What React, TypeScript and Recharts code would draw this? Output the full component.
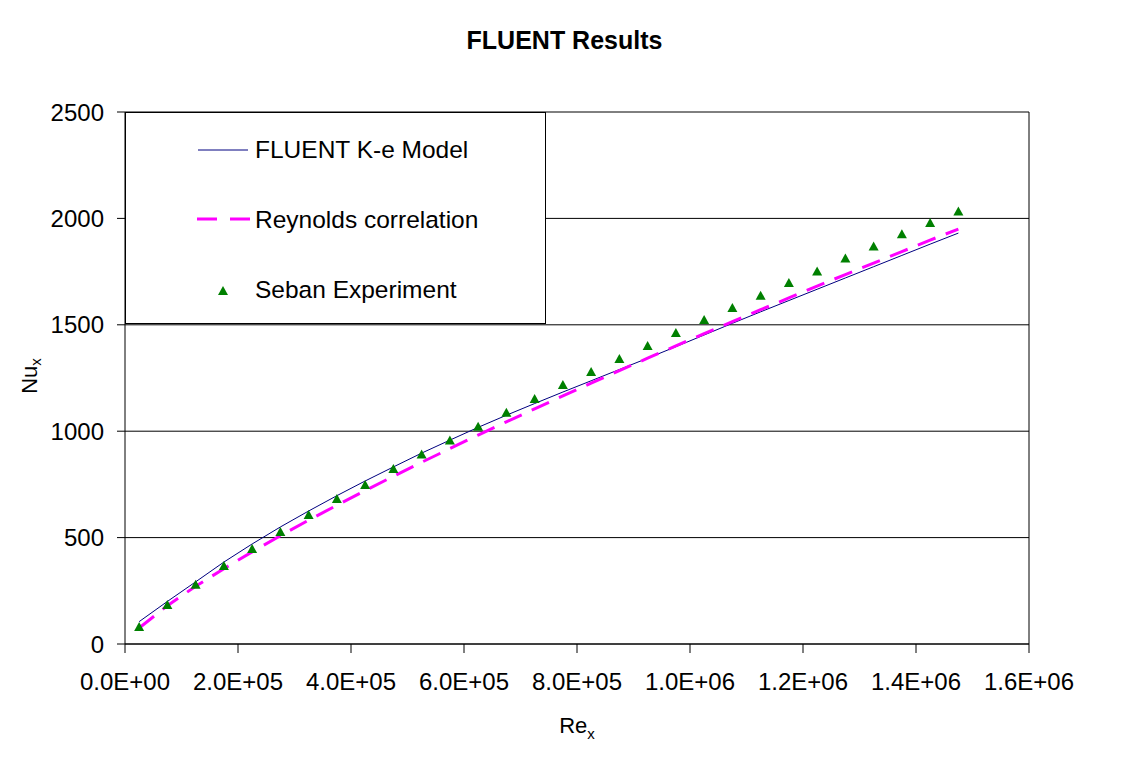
import React from 'react';
import { ComposedChart, Line, Scatter, XAxis, YAxis, CartesianGrid, Legend, ReferenceLine } from 'recharts';

const reX = [
  25000, 75000, 125000, 175000, 225000, 275000, 325000, 375000, 425000, 475000,
  525000, 575000, 625000, 675000, 725000, 775000, 825000, 875000, 925000, 975000,
  1025000, 1075000, 1125000, 1175000, 1225000, 1275000, 1325000, 1375000, 1425000, 1475000,
];

const fluentNu = [
  105, 200, 292, 385, 470, 550, 625, 697, 766, 832,
  897, 958, 1018, 1075, 1130, 1184, 1237, 1290, 1343, 1397,
  1452, 1507, 1561, 1614, 1667, 1720, 1773, 1826, 1879, 1931,
];

const reynoldsNu = [
  75, 180, 271, 354, 433, 509, 582, 652, 721, 788,
  854, 918, 982, 1044, 1105, 1166, 1226, 1285, 1343, 1401,
  1458, 1515, 1571, 1626, 1682, 1736, 1790, 1844, 1898, 1950,
];

const sebanNu = [
  80, 183, 278, 366, 446, 526, 606, 681, 747, 822,
  891, 956, 1021, 1087, 1151, 1217, 1278, 1339, 1400, 1461,
  1522, 1579, 1637, 1696, 1750, 1812, 1868, 1925, 1978, 2032,
];

const xTicks = [0, 200000, 400000, 600000, 800000, 1000000, 1200000, 1400000, 1600000];
const yTicks = [0, 500, 1000, 1500, 2000, 2500];

const data = reX.map((re, i) => ({
  re,
  fluent: fluentNu[i],
  reynolds: reynoldsNu[i],
  seban: sebanNu[i],
}));

const FONT = '"Liberation Sans", Arial, sans-serif';
const GREEN = '#008000';
const MAGENTA = '#FF00FF';
const NAVY = '#000080';

// Excel style scientific labels: 2.0E+05
function sciLabel(v: number) {
  if (v === 0) return '0.0E+00';
  const e = Math.floor(Math.log10(v) + 1e-9);
  const m = v / Math.pow(10, e);
  return `${m.toFixed(1)}E+${String(e).padStart(2, '0')}`;
}

function Triangle(props: any) {
  const { cx, cy } = props;
  if (cx == null || cy == null) return null;
  return (
    <polygon
      points={`${cx},${cy - 5} ${cx - 5},${cy + 4} ${cx + 5},${cy + 4}`}
      fill={GREEN}
    />
  );
}

function XLabel(props: any) {
  const vb = props.viewBox ?? { x: 125, y: 644, width: 904, height: 30 };
  return (
    <text x={vb.x + vb.width / 2} y={vb.y + 89} textAnchor="middle" fontSize={22} fontFamily={FONT} fill="#000">
      Re<tspan fontSize={15} dy={6}>x</tspan>
    </text>
  );
}

function YLabel(props: any) {
  const vb = props.viewBox ?? { x: 65, y: 112, width: 60, height: 532 };
  const x = vb.x - 28;
  const y = vb.y + vb.height / 2 - 2;
  return (
    <text x={x} y={y} textAnchor="middle" fontSize={22} fontFamily={FONT} fill="#000" transform={`rotate(-90 ${x} ${y})`}>
      Nu<tspan fontSize={15} dy={4}>x</tspan>
    </text>
  );
}

function LegendBox() {
  const text = { fontSize: 24.5, fontFamily: FONT, fill: '#000' };
  return (
    <div style={{ width: 421, height: 212, boxSizing: 'border-box', border: '1px solid #000', background: '#fff' }}>
      <svg width={419} height={210} style={{ display: 'block' }}>
        <line x1={72} y1={37} x2={122} y2={37} stroke={NAVY} strokeWidth={1} />
        <text x={129} y={45} {...text}>FLUENT K-e Model</text>
        <line x1={71} y1={106} x2={124} y2={106} stroke={MAGENTA} strokeWidth={3} strokeDasharray="20 13" />
        <text x={129} y={115} {...text}>Reynolds correlation</text>
        <Triangle cx={97} cy={178} />
        <text x={129} y={185} {...text}>Seban Experiment</text>
      </svg>
    </div>
  );
}

export default function App() {
  const tick = { fill: '#000', fontSize: 24, fontFamily: FONT };
  return (
    <div style={{ position: 'absolute', left: 0, top: 0, width: 1129, height: 770, background: '#fff', fontFamily: FONT }}>
      <div style={{ position: 'absolute', left: 0, top: 28, width: 1129, textAlign: 'center', fontSize: 25, lineHeight: '24px', fontWeight: 'bold', color: '#000' }}>
        FLUENT Results
      </div>
      <ComposedChart width={1129} height={770} data={data} margin={{ top: 112, right: 100, bottom: 96, left: 65 }}>
        <CartesianGrid vertical={false} stroke="#000" />
        <XAxis
          type="number"
          dataKey="re"
          domain={[0, 1600000]}
          ticks={xTicks}
          interval={0}
          tickFormatter={sciLabel}
          stroke="#000"
          tick={tick}
          tickSize={9}
          tickMargin={20}
          height={30}
          label={<XLabel />}
        />
        <YAxis
          type="number"
          domain={[0, 2500]}
          ticks={yTicks}
          interval={0}
          stroke="#000"
          tick={tick}
          tickSize={8}
          tickMargin={13}
          width={60}
          label={<YLabel />}
        />
        <ReferenceLine x={1600000} stroke="#000" />
        <Line type="linear" dataKey="fluent" stroke={NAVY} strokeWidth={1} dot={false} isAnimationActive={false} />
        <Line type="linear" dataKey="reynolds" stroke={MAGENTA} strokeWidth={3} strokeDasharray="19 11" dot={false} isAnimationActive={false} />
        <Scatter dataKey="seban" fill={GREEN} shape={Triangle} isAnimationActive={false} />
        <Legend
          content={() => <LegendBox />}
          layout="horizontal"
          verticalAlign="middle"
          align="center"
          wrapperStyle={{ left: 125, top: 112, width: 421, height: 212 }}
        />
      </ComposedChart>
    </div>
  );
}
